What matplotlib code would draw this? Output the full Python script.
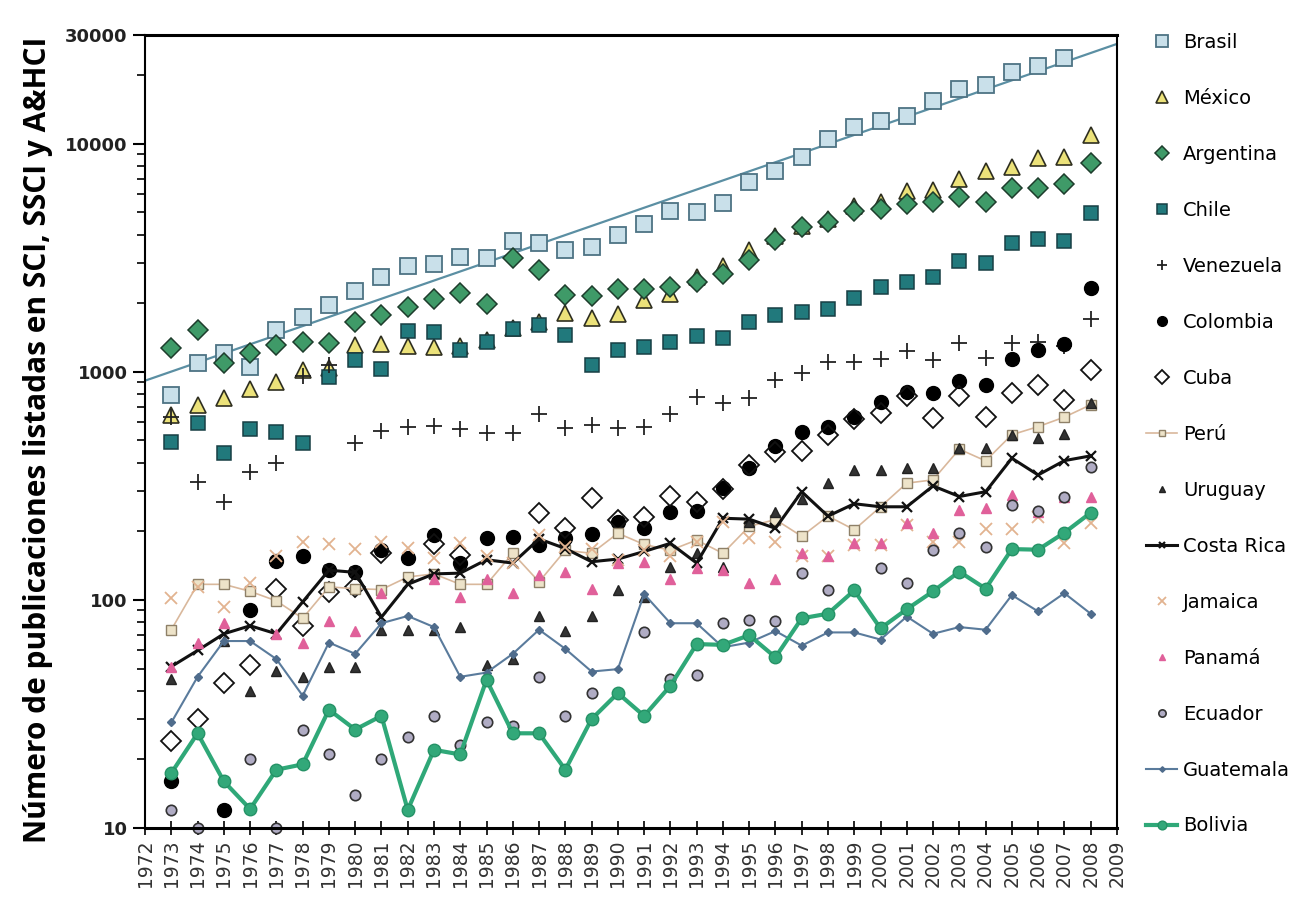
import numpy as np
import matplotlib
matplotlib.use("Agg")
import matplotlib.pyplot as plt

nan = np.nan
years = list(range(1973, 2009))

brasil = [793, 1095, 1211, 1052, 1528, 1742, 1967, 2265, 2610, 2917, 2977, 3200, 3150, 3755,
          3680, 3430, 3510, 3990, 4456, 5050, 5000, 5495, 6790, 7620, 8790, 10520, 11900, 12620,
          13300, 15350, 17400, 18150, 20560, 21980, 23760, nan]
mexico = [647, 717, 769, 842, 904, 1021, 1042, 1313, 1327, 1300, 1288, 1300, 1380, 1560,
          1650, 1810, 1720, 1800, 2070, 2200, 2617, 2897, 3430, 3925, 4350, 4670, 5310, 5580,
          6180, 6240, 7000, 7560, 7950, 8650, 8790, 10940]
argentina = [1274, 1528, 1095, 1211, 1313, 1355, 1341, 1656, 1778, 1928, 2090, 2220, 1987, 3162,
             2800, 2176, 2155, 2306, 2306, 2344, 2472, 2690, 3100, 3790, 4335, 4530, 5050, 5170,
             5430, 5580, 5870, 5580, 6420, 6420, 6640, 8220]
chile = [493, 597, 441, 562, 546, 488, 951, 1129, 1031, 1513, 1497, 1249, 1355, 1545,
         1607, 1452, 1074, 1249, 1290, 1358, 1429, 1406, 1662, 1778, 1828, 1890, 2115, 2365,
         2488, 2617, 3070, 2997, 3690, 3819, 3766, 4990]
venezuela = [635, 329, 269, 364, 399, 960, 1074, 488, 551, 574, 580, 562, 540, 540,
             652, 570, 586, 570, 575, 652, 774, 729, 767, 922, 993, 1109, 1109, 1140,
             1240, 1129, 1344, 1155, 1336, 1358, 1300, 1706]
colombia = [16, nan, 12, 90, 148, 156, 135, 133, 166, 153, 193, 145, 187, 189,
            174, 186, 195, 220, 206, 244, 246, 309, 378, 471, 547, 575, 636, 740,
            819, 811, 908, 877, 1137, 1249, 1321, 2330]
cuba = [24, 30, 43, 52, 112, 77, 108, 114, 160, nan, 175, 157, nan, nan,
        241, 206, 279, 225, 230, 286, 270, 305, 390, 443, 448, 530, 620, 662,
        780, 625, 780, 636, 806, 877, 754, 1020]
peru = [74, 117, 117, 109, 99, 83, 114, 112, 111, 126, 130, 117, 117, 160,
        120, 165, 160, 196, 175, 165, 183, 160, 210, 225, 190, 233, 203, 256,
        325, 336, 458, 407, 530, 575, 633, 717]
uruguay = [45, nan, 66, 40, 49, 46, 51, 51, 74, 74, 74, 76, 52, 55,
           85, 73, 85, 111, 103, 139, 160, 140, 220, 244, 277, 325, 372, 372,
           378, 378, 462, 462, 530, 512, 535, 733]
costa_rica = [51, 60, 71, 77, 71, 98, 135, 132, 84, 117, 130, 131, 150, 145,
              185, 168, 147, 151, 163, 177, 145, 228, 226, 206, 298, 233, 264, 256,
              256, 316, 284, 298, 418, 353, 408, 428]
jamaica = [102, 114, 93, 119, 156, 180, 175, 167, 180, 169, 153, 178, 155, 145,
           193, 170, 168, 150, 166, 155, 180, 220, 186, 180, 155, 155, 174, 174,
           213, 180, 180, 204, 204, 230, 177, 217]
panama = [51, 65, 79, nan, 71, 65, 81, 73, 107, nan, 124, 103, 124, 107,
          129, 133, 112, 145, 147, 124, 138, 135, 118, 124, 160, 155, 177, 177,
          217, 196, 248, 252, 289, 244, 284, 284]
ecuador = [12, 10, nan, 20, 10, 27, 21, 14, 20, 25, 31, 23, 29, 28,
           46, 31, 39, nan, 72, 45, 47, 79, 82, 81, 131, 110, nan, 138,
           119, 166, 197, 170, 261, 246, 282, 383]
guatemala = [29, 46, 66, 66, 55, 38, 65, 58, 79, 85, 76, 46, 48, 58,
             74, 61, 48.5, 49.7, 106, 79, 79, 62, 65, 73, 63, 72, 72, 67,
             84.5, 71, 76, 74, 105, 89, 107, 87]
bolivia = [17.4, 26, 16, 12.1, 18, 19, 33, 27, 31, 12, 22, 21, 44.6, 26,
           26, 18, 30, 39, 31, 42, 64, 63.5, 70, 56, 83, 87, 110, 75,
           91, 109, 133, 112, 167, 166, 197, 241]

fig = plt.figure(figsize=(13.01, 8.97), dpi=100)
ax = fig.add_axes([0.1115, 0.077, 0.747, 0.884])

# exponential trend of Brasil
yr = np.array(years, dtype=float)
b = np.array(brasil, dtype=float)
ok = ~np.isnan(b)
coef = np.polyfit(yr[ok], np.log10(b[ok]), 1)
tx = np.array([1972, 2009])
ax.plot(tx, 10 ** np.polyval(coef, tx), color="#5b8fa3", lw=1.6, zorder=1)

ax.plot(years, brasil, "s", ms=11.5, mfc="#c9e0ea", mec="#4d7384", mew=1.3, ls="none", label="Brasil")
ax.plot(years, mexico, "^", ms=11.5, mfc="#ece27a", mec="#2f2f20", mew=1.2, ls="none", label="México")
ax.plot(years, argentina, "D", ms=10, mfc="#3f9a68", mec="#1d3d2c", mew=1.1, ls="none", label="Argentina")
ax.plot(years, chile, "s", ms=10.5, mfc="#21797c", mec="#173f44", mew=1.1, ls="none", label="Chile")
ax.plot(years, venezuela, "+", ms=11, color="#222222", mew=1.3, ls="none", label="Venezuela")
ax.plot(years, colombia, "o", ms=10, color="#000000", ls="none", label="Colombia")
ax.plot(years, cuba, "D", ms=10, mfc="none", mec="#111111", mew=1.3, ls="none", label="Cuba")
ax.plot(years, peru, "-s", ms=7, lw=1.2, color="#d9b89c", mfc="#ede3c9", mec="#8e8068", mew=1.0, label="Perú")
ax.plot(years, uruguay, "^", ms=6.5, mfc="#333333", mec="#222222", ls="none", label="Uruguay")
ax.plot(years, costa_rica, "-x", ms=7, lw=2.2, color="#111111", mew=1.6, label="Costa Rica")
ax.plot(years, jamaica, "x", ms=9, color="#e2b390", mew=1.3, ls="none", label="Jamaica")
ax.plot(years, panama, "^", ms=6.5, color="#e0609a", ls="none", label="Panamá")
ax.plot(years, ecuador, "o", ms=7.5, mfc="#b0acc4", mec="#333333", mew=1.2, ls="none",
        label="Ecuador", clip_on=False)
ax.plot(years, guatemala, "-D", ms=4, lw=1.5, color="#5a7b9c", mfc="#4f6c8c", mec="#4f6c8c", label="Guatemala")
ax.plot(years, bolivia, "-o", ms=9, lw=3, color="#2fa878", mfc="#32a879", mec="#259266", label="Bolivia")

ax.set_yscale("log")
ax.set_ylim(10, 30000)
ax.set_xlim(1972, 2009)
ax.set_yticks([10, 100, 1000, 10000, 30000])
ax.set_yticklabels(["10", "100", "1000", "10000", "30000"], fontsize=13, fontweight="bold", color="#222222")
ax.set_xticks(range(1972, 2010))
ax.set_xticklabels([str(y) for y in range(1972, 2010)], rotation=90, fontsize=13.5, color="#333333")
ax.tick_params(axis="y", which="major", direction="out", length=9, width=1.5)
ax.tick_params(axis="y", which="minor", direction="out", length=6, width=1.2, labelleft=False)
ax.tick_params(axis="x", direction="inout", length=10, width=1.2, pad=3)
for s in ax.spines.values():
    s.set_linewidth(1.5)
ax.spines["top"].set_linewidth(2.2)
ax.spines["bottom"].set_linewidth(2.2)

ax.set_ylabel("Número de publicaciones listadas en SCI, SSCI y A&HCI", fontsize=21.5,
              fontweight="bold", family="Open Sans")
ax.yaxis.set_label_coords(-0.095, 0.49)

ax.legend(loc="upper left", bbox_to_anchor=(1.022, 1.012), frameon=False, fontsize=14,
          labelspacing=1.9, handlelength=1.6, handletextpad=0.3, markerscale=0.7,
          borderaxespad=0)

fig.savefig("out.png", dpi=100)
